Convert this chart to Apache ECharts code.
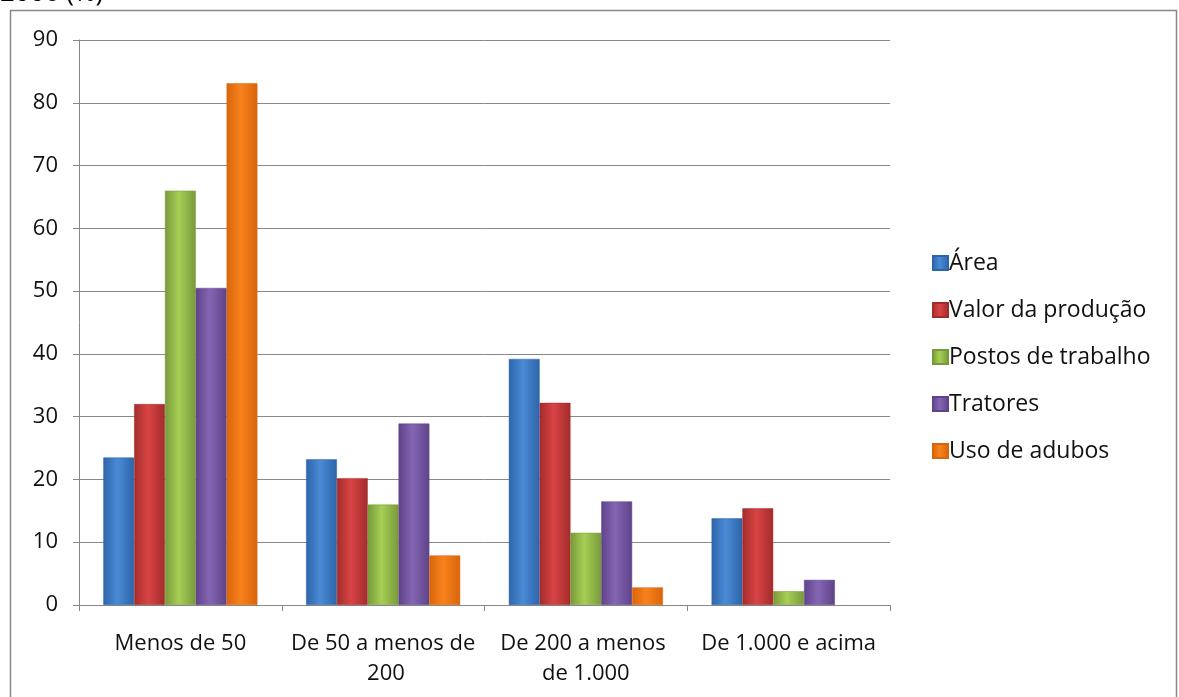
<!DOCTYPE html>
<html>
<head>
<meta charset="utf-8">
<script src="https://cdn.jsdelivr.net/npm/echarts@6/dist/echarts.min.js"></script>
<style>
  html, body { margin: 0; padding: 0; background: #fff; }
  #chart { width: 1179px; height: 697px; }
</style>
</head>
<body>
<div id="chart"></div>
<script>
const categories = ["Menos de 50", "De 50 a menos de 200", "De 200 a menos de 1.000", "De 1.000 e acima"];
const area = [23.5, 23.2, 39.2, 13.8];
const valorProducao = [32, 20.2, 32.2, 15.4];
const postosTrabalho = [66, 16, 11.5, 2.2];
const tratores = [50.5, 28.9, 16.5, 4];
const usoAdubos = [83.1, 7.9, 2.8, null];

const font = "'Open Sans', 'Noto Sans', sans-serif";

// cor com brilho no meio, borda mais escura
function bevel(dark, light) {
  return new echarts.graphic.LinearGradient(0, 0, 1, 0, [
    { offset: 0, color: dark },
    { offset: 0.45, color: light },
    { offset: 1, color: dark },
  ]);
}

function serie(name, data, dark, light) {
  return {
    name: name,
    type: "bar",
    data: data,
    barGap: "0%",
    barCategoryGap: "24%",
    itemStyle: {
      color: bevel(dark, light),
      borderColor: dark,
      borderWidth: 0.5,
    },
  };
}

const chart = echarts.init(document.getElementById("chart"));
chart.setOption({
  animation: false,
  textStyle: { fontFamily: font },
  title: {
    text: "2006 (%)",
    left: 0,
    top: -19,
    padding: 0,
    textStyle: { fontSize: 26, fontWeight: "normal", color: "#000", fontFamily: font },
  },
  graphic: [
    {
      type: "rect",
      shape: { x: 10.5, y: 10.5, width: 1166, height: 700 },
      style: { fill: null, stroke: "#888", lineWidth: 1.5 },
      silent: true,
    },
  ],
  legend: {
    orient: "vertical",
    left: 932,
    top: 251,
    padding: 0,
    itemWidth: 15,
    itemHeight: 14,
    itemGap: 23,
    icon: "rect",
    textStyle: { fontSize: 23, lineHeight: 24, color: "#111", fontFamily: font, padding: [0, 0, 0, -4] },
  },
  grid: {
    left: 79,
    right: 289,
    top: 40,
    bottom: 92,
  },
  xAxis: {
    type: "category",
    data: categories,
    axisLine: { lineStyle: { color: "#888", width: 1 } },
    axisTick: { show: true, length: 6, lineStyle: { color: "#888" } },
    axisLabel: {
      color: "#111",
      fontSize: 22,
      margin: 24,
      lineHeight: 30,
      width: 190,
      overflow: "break",
      interval: 0,
    },
  },
  yAxis: {
    type: "value",
    min: 0,
    max: 90,
    interval: 10,
    axisLine: { show: true, lineStyle: { color: "#888" } },
    axisTick: { show: true, length: 6, lineStyle: { color: "#888" } },
    axisLabel: { color: "#111", fontSize: 22, margin: 21 },
    splitLine: { lineStyle: { color: "#888", width: 1 } },
  },
  series: [
    serie("Área", area, "#2d65a8", "#4a8ad6"),
    serie("Valor da produção", valorProducao, "#a32c2c", "#d94444"),
    serie("Postos de trabalho", postosTrabalho, "#78993a", "#a6cf55"),
    serie("Tratores", tratores, "#5e4389", "#8565b3"),
    serie("Uso de adubos", usoAdubos, "#d9650c", "#f7821c"),
  ],
});
</script>
</body>
</html>
